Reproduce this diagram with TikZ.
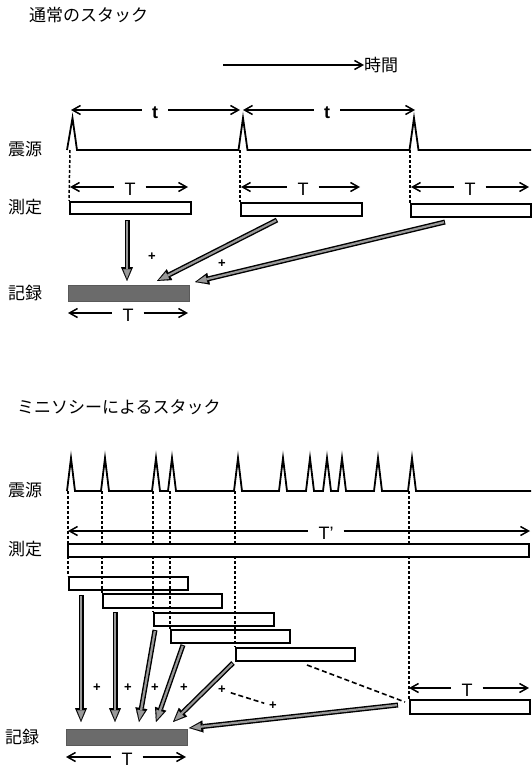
\documentclass[tikz,border=0pt]{standalone}
\usepackage{fontspec}
\setmainfont{Liberation Sans}
\newfontfamily\jp{Noto Sans CJK JP}
\usetikzlibrary{arrows.meta}
\tikzset{
  jplbl/.style={font=\jp\fontsize{17}{17}\selectfont, anchor=west, inner sep=0pt},
  srcline/.style={line width=1.8pt, line join=miter},
  guide/.style={line width=1.5pt, dash pattern=on 3pt off 2pt},
  dimtip/.style={line width=1.5pt},
  dimlbl/.style={font=\fontsize{18}{18}\selectfont, inner xsep=10pt, inner ysep=0pt},
  barb/.tip={Straight Barb[length=8pt,width=9pt]},
  mbox/.style={draw, line width=1.5pt, rectangle, anchor=north west, inner sep=0pt},
  rbox/.style={fill=black!58, draw=black!65, rectangle, anchor=north west, inner sep=0pt},
  plus/.style={font=\bfseries\fontsize{13}{13}\selectfont, inner sep=0pt},
  dashcon/.style={line width=1.6pt, dash pattern=on 5pt off 3pt},
}
\newcommand\darrow[2]{%
  \draw[line width=5pt, black, -{Triangle[length=14pt,width=12pt,line width=0.1pt]}] (#1) -- (#2);
  \draw[line width=2.2pt, black!40, shorten <=1pt, shorten >=2.3pt, -{Triangle[length=9.5pt,width=7.5pt,line width=0.1pt]}] (#1) -- (#2);}
\begin{document}
\begin{tikzpicture}[x=1pt,y=-1pt]
\useasboundingbox (0,0) rectangle (531,768);

% ================= TOP =================
\node[jplbl] (title1) at (29,15) {通常のスタック};
\coordinate (timeA) at (223,65);
\node[jplbl] (timeL) at (364,65) {時間};
\draw[dimtip, -barb] (timeA) -- (timeL.west);

\node[jplbl] (src1) at (8,149) {震源};
\node[jplbl] (meas1) at (8,207) {測定};
\node[jplbl] (rec1) at (8,293) {記録};

\draw[srcline] (67,150) -- (72.5,118) -- (77,150) -- (238.5,150) -- (243,118) -- (247.5,150)
  -- (409.5,150) -- (414,118) -- (418.5,150) -- (531,150);

% t dimensions
\coordinate (tA) at (71,110); \coordinate (tB) at (240,110);
\coordinate (tC) at (243,110); \coordinate (tD) at (415,110);
\node[dimlbl, font=\bfseries\fontsize{18}{18}\selectfont] (t1) at (155,113) {t};
\node[dimlbl, font=\bfseries\fontsize{18}{18}\selectfont] (t2) at (327,113) {t};
\draw[dimtip, barb-] (tA) -- (tA -| t1.west);
\draw[dimtip, -barb] (tA -| t1.east) -- (tB);
\draw[dimtip, barb-] (tC) -- (tC -| t2.west);
\draw[dimtip, -barb] (tC -| t2.east) -- (tD);

% measurement boxes
\node[mbox, minimum width=121pt, minimum height=12pt] (m1) at (69,201) {};
\node[mbox, minimum width=121pt, minimum height=13pt] (m2) at (240,202) {};
\node[mbox, minimum width=120pt, minimum height=13pt] (m3) at (410,203) {};

% guides
\coordinate (g1) at (70,150); \coordinate (g2) at (240,150); \coordinate (g3) at (410,150);
\draw[guide] (g1) -- (m1.north west);
\draw[guide] (g2) -- (m2.north west);
\draw[guide] (g3) -- (m3.north west);

% T dimensions top
\foreach \a/\b/\c/\n in {70/188/130/T1, 241/360/303/T2, 411/529/470/T3}{
  \coordinate (\n a) at (\a,187); \coordinate (\n b) at (\b,187);
  \node[dimlbl] (\n) at (\c,189) {T};
  \draw[dimtip, barb-] (\n a) -- (\n a -| \n.west);
  \draw[dimtip, -barb] (\n a -| \n.east) -- (\n b);
}

% record box
\node[rbox, minimum width=121pt, minimum height=16pt] (r1) at (68,285) {};
\coordinate (R1a) at (68,313); \coordinate (R1b) at (188,313);
\node[dimlbl] (R1) at (128,315) {T};
\draw[dimtip, barb-] (R1a) -- (R1a -| R1.west);
\draw[dimtip, -barb] (R1a -| R1.east) -- (R1b);

% arrows top
\coordinate (a1s) at (127,220); \coordinate (a1e) at (127,281);
\coordinate (a2s) at (277,220); \coordinate (a2e) at (157,281);
\coordinate (a3s) at (445,222); \coordinate (a3e) at (195,282);
\darrow{a1s}{a1e}
\darrow{a2s}{a2e}
\darrow{a3s}{a3e}
\node[plus] (p1) at (152,257) {+};
\node[plus] (p2) at (222,264) {+};

% ================= BOTTOM =================
\node[jplbl] (title2) at (17,407) {ミニソシーによるスタック};
\node[jplbl] (src2) at (8,490) {震源};
\node[jplbl] (meas2) at (8,549) {測定};
\node[jplbl] (rec2) at (5,737) {記録};

\draw[srcline] (67,491) -- (71,458) -- (75,491) -- (101,491) -- (105,458) -- (109,491)
  -- (152,491) -- (156,458) -- (160,491) -- (168,491) -- (172,458) -- (176,491)
  -- (234,491) -- (238,458) -- (242,491) -- (279,491) -- (283,458) -- (287,491)
  -- (306,491) -- (310,458) -- (314,491) -- (323,491) -- (327,458) -- (331,491)
  -- (338,491) -- (342,458) -- (346,491) -- (374,491) -- (378,458) -- (382,491)
  -- (408,491) -- (412,458) -- (416,491) -- (531,491);

% small boxes
\node[mbox, minimum width=119pt, minimum height=13pt] (b1) at (68,576) {};
\node[mbox, minimum width=119pt, minimum height=14pt] (b2) at (102,593) {};
\node[mbox, minimum width=120pt, minimum height=13pt] (b3) at (153,612) {};
\node[mbox, minimum width=119pt, minimum height=13pt] (b4) at (170,629) {};
\node[mbox, minimum width=119pt, minimum height=13pt] (b5) at (235,647) {};
\node[mbox, minimum width=120pt, minimum height=14pt] (b6) at (409,699) {};

% guides bottom
\foreach \x/\n in {68/b1, 102/b2, 153/b3, 170/b4, 235/b5}{
  \coordinate (h\n) at (\x,491);
  \draw[guide] (h\n) -- (\n.north west);
}
\coordinate (hb6) at (409,491);
\draw[guide] (hb6) -- (b6.north west);

% T' dimension
\coordinate (Tpa) at (68,531); \coordinate (Tpb) at (530,531);
\node[dimlbl] (Tp) at (326,533) {T’};
\draw[dimtip, barb-] (Tpa) -- (Tpa -| Tp.west);
\draw[dimtip, -barb] (Tpa -| Tp.east) -- (Tpb);

% big measurement box
\node[mbox, fill=white, minimum width=461pt, minimum height=13pt] (big) at (67,543) {};

% T dimension for b6
\coordinate (T6a) at (409,688); \coordinate (T6b) at (529,688);
\node[dimlbl] (T6) at (467,690) {T};
\draw[dimtip, barb-] (T6a) -- (T6a -| T6.west);
\draw[dimtip, -barb] (T6a -| T6.east) -- (T6b);

% record box bottom
\node[rbox, minimum width=121pt, minimum height=16pt] (r2) at (66,729) {};
\coordinate (R2a) at (66,757); \coordinate (R2b) at (186,757);
\node[dimlbl] (R2) at (127,759) {T};
\draw[dimtip, barb-] (R2a) -- (R2a -| R2.west);
\draw[dimtip, -barb] (R2a -| R2.east) -- (R2b);

% arrows bottom
\coordinate (c1s) at (81,595);  \coordinate (c1e) at (81,722);
\coordinate (c2s) at (115,612); \coordinate (c2e) at (115,722);
\coordinate (c3s) at (155,630); \coordinate (c3e) at (139,722);
\coordinate (c4s) at (183,645); \coordinate (c4e) at (156,722);
\coordinate (c5s) at (233,663); \coordinate (c5e) at (173,722);
\coordinate (c6s) at (398,705); \coordinate (c6e) at (189,728);
\darrow{c1s}{c1e}
\darrow{c2s}{c2e}
\darrow{c3s}{c3e}
\darrow{c4s}{c4e}
\darrow{c5s}{c5e}
\darrow{c6s}{c6e}

\node[plus] (q1) at (97,688) {+};
\node[plus] (q2) at (128,688) {+};
\node[plus] (q3) at (155,688) {+};
\node[plus] (q4) at (184,688) {+};
\node[plus] (q5) at (222,690) {+};
\node[plus] (q6) at (273,706) {+};

\coordinate (d1s) at (307,665); \coordinate (d1e) at (405,702);
\draw[dashcon] (d1s) -- (d1e);
\draw[dashcon, shorten <=5pt, shorten >=5pt] (q5) -- (q6);
\end{tikzpicture}
\end{document}
